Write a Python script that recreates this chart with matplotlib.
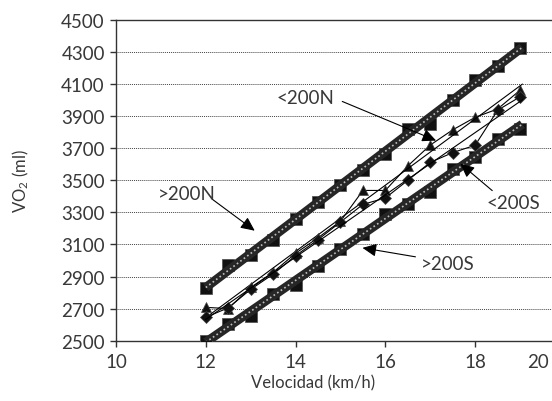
import matplotlib
matplotlib.use('Agg')
import matplotlib.pyplot as plt
import matplotlib.transforms as mtransforms
import numpy as np

plt.rcParams['font.family'] = ['Lato', 'DejaVu Sans']
plt.rcParams['mathtext.default'] = 'regular'

# velocidad (km/h) y VO2 (ml)
velocidad = [12, 12.5, 13, 13.5, 14, 14.5, 15, 15.5, 16, 16.5, 17, 17.5, 18, 18.5, 19]
n_mayor = [2827, 2973, 3036, 3129, 3261, 3365, 3469, 3562, 3667, 3823, 3854, 4000, 4125, 4215, 4323]
n_menor = [2708, 2700, 2832, 2927, 3045, 3142, 3245, 3437, 3437, 3590, 3720, 3815, 3893, 3945, 4062]
s_menor = [2646, 2705, 2820, 2915, 3030, 3130, 3240, 3350, 3390, 3500, 3612, 3673, 3719, 3937, 4021]
s_mayor = [2500, 2604, 2656, 2792, 2850, 2965, 3073, 3167, 3292, 3354, 3430, 3570, 3646, 3760, 3823]

yticks = np.arange(2500, 4501, 200)
xticks = [10, 12, 14, 16, 18, 20]

txt = '#383838'

fig = plt.figure(figsize=(5.52, 4.02), dpi=100)
ax = fig.add_axes([0.2101, 0.15, 0.8134, 0.7978])

x = np.array(velocidad)
xx = np.array([x.min(), x.max() + 0.05])


def thick_trend(vals):
    # marcadores cuadrados + linea de tendencia gruesa con trama
    ax.plot(x, vals, ls='none', marker='s', ms=8, mfc='#111111', mec='#555555',
            mew=0.6, zorder=3)
    p = np.polyfit(x, vals, 1)
    yy = np.polyval(p, xx)
    ax.plot(xx, yy, color='#262626', lw=6.5, solid_capstyle='butt', zorder=4)
    ax.plot(xx, yy, color='white', lw=1.2, ls=(0, (1, 1.6)), alpha=0.7, zorder=5)


def thin_series(vals, marker, ms):
    ax.plot(x, vals, color='black', lw=0.8, marker=marker, ms=ms, mfc='#111111',
            mec='#444444', mew=0.5, zorder=6)
    p = np.polyfit(x, vals, 1)
    ax.plot(xx, np.polyval(p, xx), color='black', lw=0.8, zorder=6)


thick_trend(n_mayor)
thick_trend(s_mayor)
thin_series(n_menor, '^', 7)
thin_series(s_menor, 'D', 6)

ax.set_xlim(10, 20)
ax.set_ylim(2500, 4500)
ax.set_xticks(xticks)
ax.set_yticks(yticks)
ax.yaxis.grid(True, color='#444444', lw=0.7, ls=(0, (1, 1)))
ax.set_axisbelow(True)

for s in ['left', 'bottom', 'top']:
    ax.spines[s].set_color('#333333')
    ax.spines[s].set_linewidth(1.0)
ax.spines['right'].set_visible(False)

ax.tick_params(axis='both', direction='out', length=4, width=1, color='#333333',
               labelcolor=txt, labelsize=13.5)
ax.tick_params(axis='x', pad=5)
ax.tick_params(axis='y', pad=4)

ax.set_xlabel('Velocidad (km/h)', fontsize=12, color=txt)
ax.set_ylabel('VO$_2$ (ml)', fontsize=12, color=txt)
ax.xaxis.set_label_coords(0.439, -0.105)
ax.yaxis.set_label_coords(-0.189, 0.5)

# la etiqueta "20" queda dentro del area visible
shift = mtransforms.ScaledTranslation(-27 / 100., 0, fig.dpi_scale_trans)
lab = ax.xaxis.get_major_ticks()[-1].label1
lab.set_transform(lab.get_transform() + shift)

arrow = dict(arrowstyle='-|>,head_length=0.6,head_width=0.28', mutation_scale=14,
             color='black', lw=0.8, shrinkA=0, shrinkB=0)

notas = [
    ('<200N', (14.22, 4017), (15.04, 3992), (17.13, 3748)),
    ('>200N', (11.58, 3417), (12.16, 3379), (13.09, 3186)),
    ('<200S', (18.84, 3361), (18.38, 3436), (17.67, 3604)),
    ('>200S', (17.40, 2979), (16.67, 3023), (15.49, 3079)),
]
for t, pos, start, tip in notas:
    ax.text(pos[0], pos[1], t, ha='center', va='center', fontsize=13.5, color=txt, zorder=8)
    ax.annotate('', xy=tip, xytext=start, arrowprops=arrow, zorder=8)

fig.savefig('out.png', dpi=100)
